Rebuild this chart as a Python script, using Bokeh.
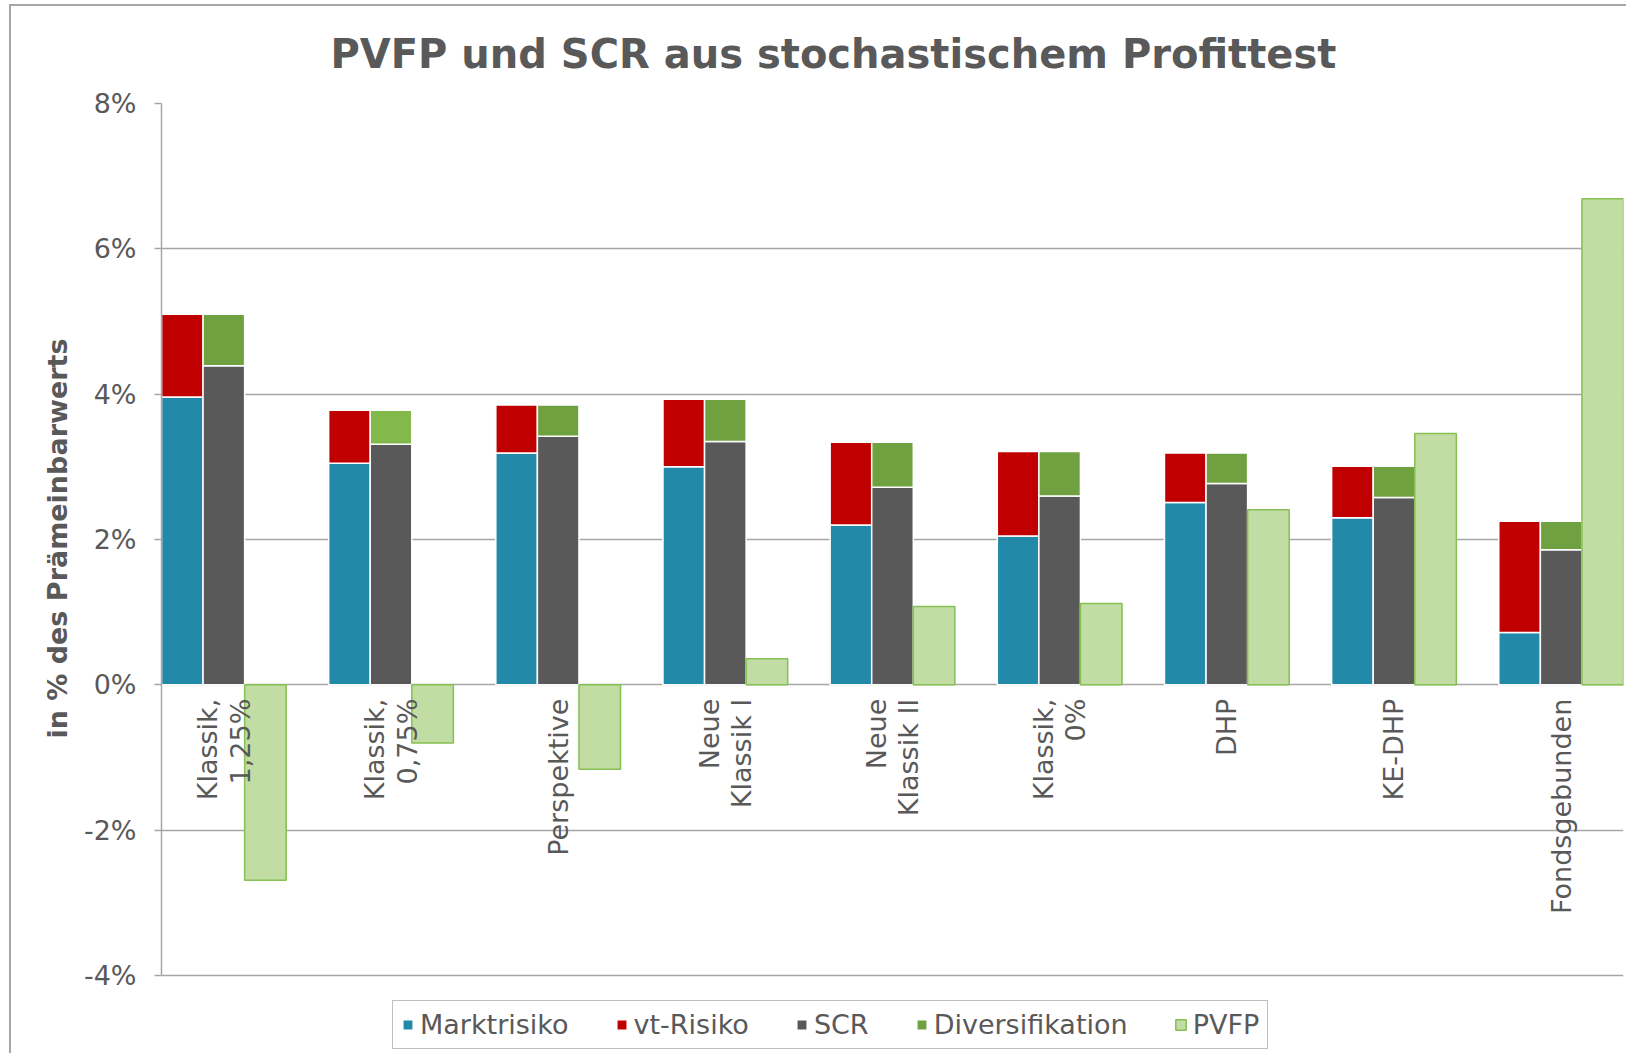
import numpy as np
from bokeh.plotting import figure
from bokeh.models import (ColumnDataSource, Range1d, FixedTicker, PrintfTickFormatter,
                          Legend, LegendItem, Title)
from bokeh.core.properties import value
from bokeh.embed import file_html
from bokeh.resources import INLINE

# ---- data (values in % of Prämienbarwert) ----
categories = ["Klassik,\n1,25%", "Klassik,\n0,75%", "Perspektive", "Neue\nKlassik I",
              "Neue\nKlassik II", "Klassik,\n0%", "DHP", "KE-DHP", "Fondsgebunden"]
marktrisiko = [3.96, 3.05, 3.19, 3.00, 2.20, 2.05, 2.51, 2.30, 0.72]
vt_risiko = [1.14, 0.73, 0.66, 0.93, 1.14, 1.16, 0.68, 0.71, 1.53]
scr = [4.39, 3.31, 3.42, 3.35, 2.72, 2.60, 2.77, 2.58, 1.86]
diversifikation = [0.71, 0.47, 0.43, 0.58, 0.62, 0.61, 0.42, 0.43, 0.39]
pvfp = [-2.69, -0.80, -1.16, 0.36, 1.08, 1.12, 2.41, 3.46, 6.69]
y_ticks = [-4, -2, 0, 2, 4, 6, 8]
series_names = ["Marktrisiko", "vt-Risiko", "SCR", "Diversifikation", "PVFP"]
title_text = "PVFP und SCR aus stochastischem Profittest"
y_title = "in % des Prämeinbarwerts"

# ---- styles ----
C_BLUE = "#2389a8"
C_RED = "#c00000"
C_GRAY = "#595959"
C_DIV = "#70a140"
div_colors = [C_DIV, "#83b94b", C_DIV, C_DIV, C_DIV, C_DIV, C_DIV, C_DIV, C_DIV]
C_PV_FILL = "#c1dda4"
C_PV_LINE = "#86bf52"
TXT = "#595959"
GRID = "#a6a6a6"
FONT = "DejaVu Sans"

n = len(categories)
idx = np.arange(n)
w = 0.2487

m = np.array(marktrisiko)
v = np.array(vt_risiko)
s = np.array(scr)
d = np.array(diversifikation)

src = ColumnDataSource(data=dict(
    x_l=idx - w, x_m=idx, x_r=idx + w,
    m_top=m, v_top=m + v,
    s_top=s, d_top=s + d,
    pv=np.array(pvfp), zero=np.zeros(n),
    div_col=div_colors,
))

# frame extends below -4% so that the legend sits inside the drawing area
p = figure(width=1617, height=1049, output_backend="svg", toolbar_location=None,
           x_range=Range1d(-0.373, 8.373), y_range=Range1d(-5.10, 8),
           min_border_left=150, min_border_right=5, min_border_top=97,
           min_border_bottom=0)
p.styles = {"border-left": "2px solid #a6a6a6", "border-top": "2px solid #a6a6a6",
            "margin-left": "9px", "margin-top": "4px"}
p.outline_line_color = None
p.background_fill_color = "white"
p.border_fill_color = "white"

# title
p.title.text = title_text
p.title.align = "left"
p.title.offset = 169
p.title.vertical_align = "top"
p.title.text_font = FONT
p.title.text_font_size = "40px"
p.title.text_font_style = "bold"
p.title.text_color = TXT
p.title.standoff = 49

# axes
p.xaxis.visible = False
p.xgrid.visible = False
p.ygrid.grid_line_color = GRID
p.ygrid.grid_line_width = 1.5
p.yaxis.ticker = FixedTicker(ticks=y_ticks)
p.yaxis.bounds = (min(y_ticks), max(y_ticks))
p.yaxis.formatter = PrintfTickFormatter(format="%d%%")
p.yaxis.axis_line_color = GRID
p.yaxis.axis_line_width = 1.5
p.yaxis.major_tick_line_color = GRID
p.yaxis.major_tick_line_width = 1.5
p.yaxis.major_tick_out = 7
p.yaxis.major_tick_in = 0
p.yaxis.minor_tick_line_color = None
p.yaxis.major_label_text_font = FONT
p.yaxis.major_label_text_font_size = "27px"
p.yaxis.major_label_text_color = TXT
p.yaxis.major_label_standoff = 18

# y-axis title (placed as a side title so it can be centred on the -4%..8% span)
ytitle = Title(text=y_title, align="right", offset=235, standoff=16,
               text_font=FONT, text_font_size="27px", text_font_style="bold",
               text_color=TXT)
p.add_layout(ytitle, "left")

# bars
r_m = p.vbar(x="x_l", width=w, bottom="zero", top="m_top", source=src,
             fill_color=C_BLUE, line_color="white", line_width=1.5)
r_v = p.vbar(x="x_l", width=w, bottom="m_top", top="v_top", source=src,
             fill_color=C_RED, line_color="white", line_width=1.5)
r_s = p.vbar(x="x_m", width=w, bottom="zero", top="s_top", source=src,
             fill_color=C_GRAY, line_color="white", line_width=1.5)
r_d = p.vbar(x="x_m", width=w, bottom="s_top", top="d_top", source=src,
             fill_color="div_col", line_color="white", line_width=1.5)
r_p = p.vbar(x="x_r", width=w, bottom="zero", top="pv", source=src,
             fill_color=C_PV_FILL, line_color=C_PV_LINE, line_width=1.5)

# category labels (rotated, below 0%)
p.text(x=idx, y=[-0.19] * n, text=categories, angle=np.pi / 2,
       text_align="right", text_baseline="middle",
       text_font=value(FONT), text_font_size="27px", text_color=TXT,
       text_line_height=1.05)

legend = Legend(items=[
    LegendItem(label=series_names[0], renderers=[r_m]),
    LegendItem(label=series_names[1], renderers=[r_v]),
    LegendItem(label=series_names[2], renderers=[r_s]),
    LegendItem(label=series_names[3], renderers=[r_d]),
    LegendItem(label=series_names[4], renderers=[r_p]),
], orientation="horizontal", location=(231, 6))
legend.label_text_font = FONT
legend.label_text_font_size = "27px"
legend.label_text_color = TXT
legend.glyph_width = 13
legend.glyph_height = 13
legend.label_standoff = 6
legend.spacing = 46
legend.padding = 8
legend.margin = 0
legend.border_line_color = "#7f7f7f"
legend.border_line_width = 1.5
legend.background_fill_color = "white"
legend.background_fill_alpha = 1.0
p.add_layout(legend, "center")

open("out.html", "w").write(file_html(p, INLINE))
